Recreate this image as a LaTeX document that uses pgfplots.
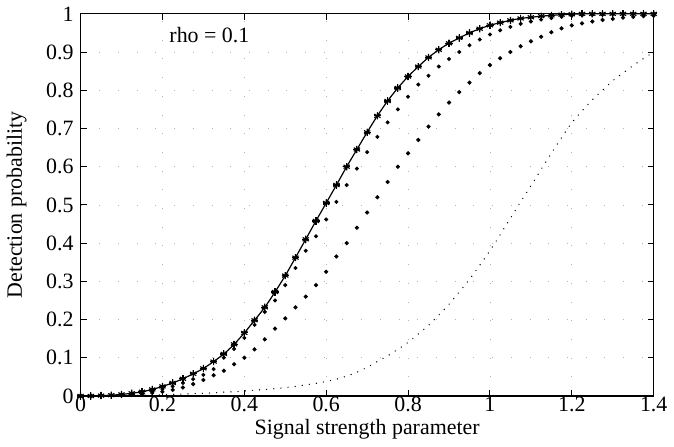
\documentclass[border=0pt]{standalone}
\usepackage{fontspec}
\setmainfont{Liberation Serif}
\usepackage{pgfplots}
\usepackage{pgfplotstable}
\pgfplotsset{compat=1.18}

% x, A = solid curve (with + and * marks), B = near dotted, C = far dotted, D = fine dotted
\pgfplotstableread{
x     A      B      C      D
0.000 0.000  0.000  0.000  0.000
0.025 0.000  0.000  0.000  0.000
0.050 0.001  0.001  0.001  0.0005
0.075 0.002  0.001  0.001  0.001
0.100 0.004  0.003  0.002  0.001
0.125 0.007  0.005  0.003  0.0015
0.150 0.011  0.008  0.005  0.002
0.175 0.017  0.012  0.008  0.0025
0.200 0.025  0.018  0.011  0.003
0.225 0.034  0.025  0.016  0.004
0.250 0.045  0.034  0.022  0.005
0.275 0.058  0.044  0.031  0.006
0.300 0.072  0.055  0.042  0.007
0.325 0.090  0.070  0.054  0.008
0.350 0.110  0.100  0.066  0.010
0.375 0.135  0.123  0.083  0.011
0.400 0.165  0.152  0.100  0.013
0.425 0.198  0.186  0.122  0.015
0.450 0.232  0.220  0.148  0.017
0.475 0.272  0.250  0.176  0.019
0.500 0.315  0.290  0.203  0.022
0.525 0.362  0.335  0.232  0.025
0.550 0.410  0.380  0.260  0.029
0.575 0.458  0.418  0.290  0.033
0.600 0.505  0.462  0.325  0.038
0.625 0.552  0.508  0.365  0.044
0.650 0.600  0.552  0.400  0.052
0.675 0.645  0.595  0.440  0.062
0.700 0.690  0.638  0.480  0.075
0.725 0.733  0.678  0.520  0.090
0.750 0.772  0.716  0.560  0.105
0.775 0.806  0.750  0.600  0.122
0.800 0.836  0.783  0.635  0.140
0.825 0.862  0.815  0.670  0.162
0.850 0.886  0.838  0.705  0.185
0.875 0.906  0.862  0.737  0.212
0.900 0.923  0.882  0.768  0.240
0.925 0.937  0.900  0.795  0.272
0.950 0.950  0.918  0.820  0.305
0.975 0.961  0.933  0.845  0.342
1.000 0.970  0.946  0.866  0.380
1.025 0.977  0.957  0.884  0.422
1.050 0.983  0.966  0.900  0.465
1.075 0.988  0.974  0.915  0.508
1.100 0.991  0.980  0.928  0.550
1.125 0.994  0.985  0.940  0.593
1.150 0.996  0.989  0.952  0.635
1.175 0.998  0.992  0.962  0.676
1.200 0.999  0.995  0.970  0.715
1.225 1.000  0.996  0.975  0.746
1.250 1.000  0.997  0.980  0.775
1.275 1.000  0.998  0.984  0.800
1.300 1.000  0.999  0.987  0.825
1.325 1.000  0.999  0.990  0.845
1.350 1.000  1.000  0.992  0.865
1.375 1.000  1.000  0.994  0.883
1.400 1.000  1.000  0.995  0.900
}\curves

\begin{document}
\begin{tikzpicture}
  \begin{axis}[
    scale only axis,
    width=288pt,
    height=192pt,
    xmin=0, xmax=1.4,
    ymin=0, ymax=1,
    xtick={0,0.2,0.4,0.6,0.8,1,1.2,1.4},
    xticklabels={0,0.2,0.4,0.6,0.8,1,1.2,1.4},
    ytick={0,0.1,0.2,0.3,0.4,0.5,0.6,0.7,0.8,0.9,1},
    yticklabels={0,0.1,0.2,0.3,0.4,0.5,0.6,0.7,0.8,0.9,1},
    xlabel={Signal strength parameter},
    ylabel={Detection probability},
    /pgf/number format/assume math mode=true,
    tick label style={font=\fontsize{11}{12}\selectfont},
    label style={font=\fontsize{11}{12}\selectfont},
    xticklabel style={yshift=3pt},
    xlabel style={yshift=3pt},
    ylabel style={yshift=3pt},
    axis line style={line width=0.6pt},
    major tick length=3pt,
    tick style={black, line width=0.5pt},
    grid=major,
    grid style={gray!60, line width=0.4pt, dash pattern=on 0.4pt off 9pt},
  ]
    % fine dotted curve, far right
    \addplot[black, line width=0.7pt, line cap=round, dash pattern=on 0pt off 3.6pt, smooth]
      table[x=x, y=D] {\curves};
    % far dotted curve
    \addplot[only marks, mark=*, mark size=0.85pt, black]
      table[x=x, y=C] {\curves};
    % near dotted curve
    \addplot[only marks, mark=*, mark size=0.8pt, black]
      table[x=x, y=B] {\curves};
    % solid curve with overlaid markers
    \addplot[black, line width=0.6pt, smooth] table[x=x, y=A] {\curves};
    \addplot[only marks, mark=asterisk, mark size=1.8pt, black, line width=0.6pt]
      table[x=x, y=A] {\curves};
    \addplot[only marks, mark=+, mark size=1.8pt, black, line width=0.6pt]
      table[x=x, y=A] {\curves};

    \node[anchor=west, font=\fontsize{11}{12}\selectfont] at (axis cs:0.2,0.945) {rho = 0.1};
  \end{axis}
\end{tikzpicture}
\end{document}
